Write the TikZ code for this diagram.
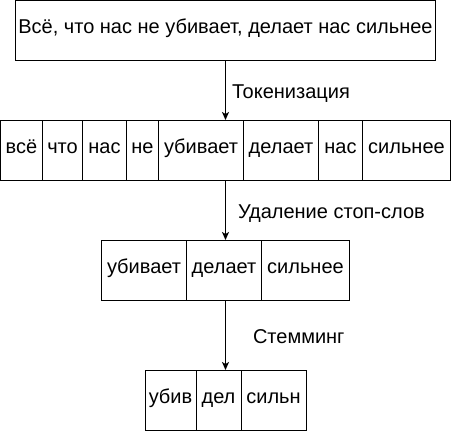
\documentclass[tikz,border=0pt]{standalone}
\usepackage{fontspec}
\setmainfont{Liberation Sans}
\usetikzlibrary{positioning, chains, fit, arrows.meta}

\begin{document}
\begin{tikzpicture}[x=1pt, y=-1pt, >={Stealth[length=8pt,width=7pt,inset=2pt]},
    cell/.style={draw, line width=1pt, minimum height=60pt, inner sep=0pt,
      outer sep=0pt, text height=0.95em, text depth=0.2em},
    row/.style={inner sep=0pt, outer sep=0pt},
    steplabel/.style={anchor=base west, inner sep=0pt},
    node distance=0pt, font=\fontsize{20}{24}\selectfont]

  \useasboundingbox (0,0) rectangle (451,431);

  \node[cell, minimum width=420pt] (sentence) at (225.5,30) {Всё, что нас не убивает, делает нас сильнее};

  % tokens
  \begin{scope}[start chain=going right]
    \node[cell, on chain, minimum width=42pt, anchor=west] (tvse) at (0.5,150) {всё};
    \node[cell, on chain, minimum width=40pt] (tchto) {что};
    \node[cell, on chain, minimum width=44pt] (tnas) {нас};
    \node[cell, on chain, minimum width=32pt] (tne) {не};
    \node[cell, on chain, minimum width=85pt] (tubivaet) {убивает};
    \node[cell, on chain, minimum width=75pt] (tdelaet) {делает};
    \node[cell, on chain, minimum width=44pt] (tnasb) {нас};
    \node[cell, on chain, minimum width=88pt] (tsilnee) {сильнее};
  \end{scope}
  \node[row, fit=(tvse)(tsilnee)] (tokens) {};

  % without stop words
  \begin{scope}[start chain=going right]
    \node[cell, on chain, minimum width=85pt, anchor=west] (subivaet) at (101.5,270) {убивает};
    \node[cell, on chain, minimum width=75pt] (sdelaet) {делает};
    \node[cell, on chain, minimum width=88pt] (ssilnee) {сильнее};
  \end{scope}
  \node[row, fit=(subivaet)(ssilnee)] (nostop) {};

  % stems
  \begin{scope}[start chain=going right]
    \node[cell, on chain, minimum width=51pt, anchor=west] (mubiv) at (145,400) {убив};
    \node[cell, on chain, minimum width=45pt] (mdel) {дел};
    \node[cell, on chain, minimum width=65pt] (msiln) {сильн};
  \end{scope}
  \node[row, fit=(mubiv)(msiln)] (stems) {};

  \draw[->, line width=1pt] (sentence) -- (tokens)
    node[steplabel, midway, xshift=6pt, yshift=-9pt] (ltoken) {Токенизация};
  \draw[->, line width=1pt] (tokens) -- (nostop)
    node[steplabel, midway, xshift=12pt, yshift=-8.3pt] (lstop) {Удаление стоп-слов};
  \draw[->, line width=1pt] (nostop) -- (stems)
    node[steplabel, midway, xshift=27pt, yshift=-8.3pt] (lstem) {Стемминг};
\end{tikzpicture}
\end{document}
